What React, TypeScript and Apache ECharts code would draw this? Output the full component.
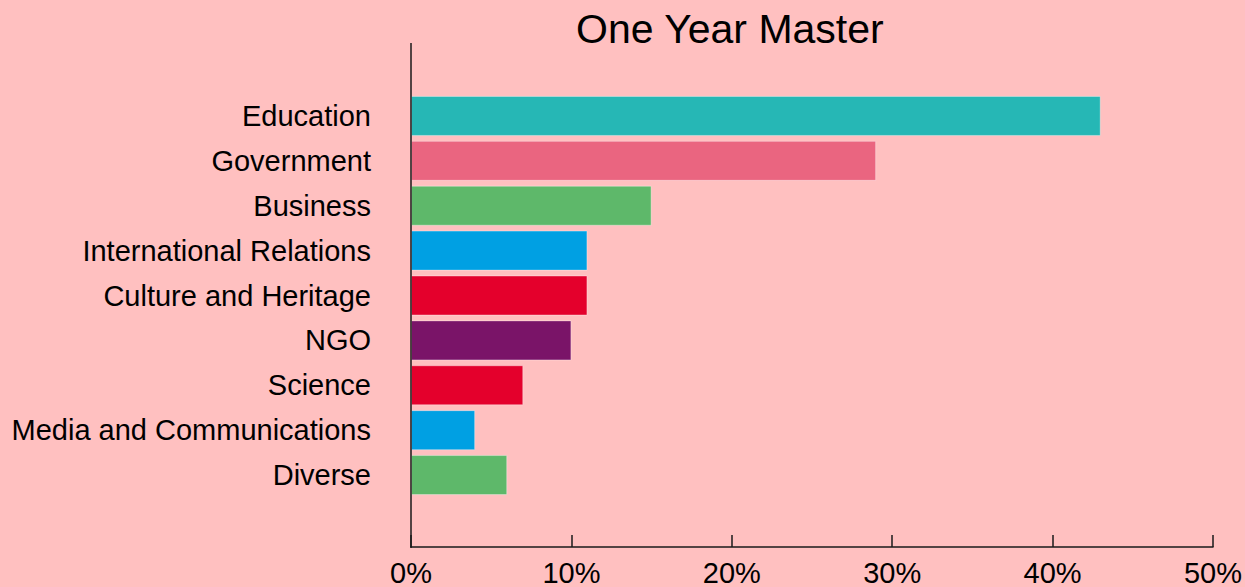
import React, { useEffect, useRef } from "react";
import * as echarts from "echarts";

const categories = [
  "Education",
  "Government",
  "Business",
  "International Relations",
  "Culture and Heritage",
  "NGO",
  "Science",
  "Media and Communications",
  "Diverse",
];
const values = [43, 29, 15, 11, 11, 10, 7, 4, 6];
const barColors = [
  "#26B7B5",
  "#EA6580",
  "#5EB86A",
  "#00A0E3",
  "#E4002C",
  "#7A1468",
  "#E4002C",
  "#00A0E3",
  "#5EB86A",
];
const xTicks = { min: 0, max: 50, interval: 10 };
const titleText = "One Year Master";

const FONT = "'Liberation Sans', Arial, Helvetica, sans-serif";

export default function App() {
  const ref = useRef<HTMLDivElement>(null);
  useEffect(() => {
    if (!ref.current) return;
    const chart = echarts.init(ref.current, undefined, { renderer: "svg" });
    chart.setOption({
      animation: false,
      backgroundColor: "#FFC0C0",
      textStyle: { fontFamily: FONT },
      title: {
        text: titleText,
        left: 571,
        top: 3,
        textStyle: { fontSize: 41, fontWeight: "normal", color: "#000", fontFamily: FONT },
      },
      grid: { left: 411, right: 30, top: 93.5, bottom: 88.5, containLabel: false },
      xAxis: {
        type: "value",
        min: xTicks.min,
        max: xTicks.max,
        interval: xTicks.interval,
        offset: 49.5,
        splitLine: { show: false },
        axisLine: { show: true, lineStyle: { color: "#1a1a1a", width: 1.5 } },
        axisTick: { show: true, inside: true, length: 12, lineStyle: { color: "#1a1a1a", width: 1.5 } },
        axisLabel: {
          formatter: "{value}%",
          fontSize: 29,
          color: "#000",
          margin: 11,
          fontFamily: FONT,
        },
      },
      yAxis: {
        type: "category",
        inverse: true,
        data: categories,
        axisLine: { show: false },
        axisTick: { show: false },
        axisLabel: {
          fontSize: 29,
          color: "#000",
          margin: 40,
          fontFamily: FONT,
          padding: [0, 0, 7, 0],
        },
      },
      graphic: [
        {
          type: "line",
          shape: { x1: 411, y1: 43, x2: 411, y2: 548 },
          style: { stroke: "#1a1a1a", lineWidth: 1.5 },
          z: 10,
        },
      ],
      series: [
        {
          type: "bar",
          barWidth: 40,
          data: values.map((v, i) => ({
            value: v,
            itemStyle: {
              color: barColors[i],
              borderColor: "rgba(255,255,255,0.35)",
              borderWidth: 1,
            },
          })),
        },
      ],
    });
    return () => chart.dispose();
  }, []);
  return <div ref={ref} style={{ width: 1245, height: 587, position: "absolute", left: 0, top: 0 }} />;
}
